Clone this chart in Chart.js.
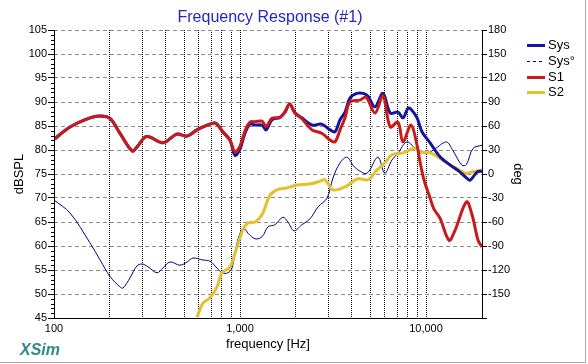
<!DOCTYPE html>
<html>
<head>
<meta charset="utf-8">
<script src="https://cdn.jsdelivr.net/npm/chart.js@4.4.0/dist/chart.umd.min.js"></script>
<style>
  html, body { margin: 0; padding: 0; background: #fff; }
  #wrap { position: relative; width: 588px; height: 364px; }
</style>
</head>
<body>
<div id="wrap"><canvas id="myChart" width="588" height="364"></canvas></div>
<script>
// S1 (woofer) SPL, dB
const s1Freq = [100, 122, 156, 177, 200, 226, 263, 279, 315, 385, 458, 519, 587, 632, 717, 752, 808, 883, 940,
    1000, 1064, 1132, 1205, 1313, 1380, 1486, 1640, 1745, 1850, 1977, 2150, 2435, 2750, 3050, 3240, 3450, 3670,
    3900, 4420, 4760, 5320, 5870, 6420, 7070, 7520, 8300, 8950, 9290, 9750, 10520, 11000, 11890, 13300, 14300,
    16500, 17680, 19050, 20000];
const s1Spl = [82.2, 84.8, 86.7, 87.1, 86.6, 83.5, 79.8, 80.6, 82.8, 81.5, 83.3, 82.9, 84.2, 84.8, 85.6, 85.4, 83.8, 82.1, 79.6,
    80.8, 84.0, 85.8, 85.9, 86.0, 84.9, 86.6, 86.8, 87.9, 89.6, 87.7, 86.5, 84.2, 83.5, 82.1, 81.7, 84.2, 86.7,
    90.0, 90.4, 91.0, 87.7, 91.3, 84.8, 85.8, 81.7, 85.2, 81.0, 77.5, 73.8, 70.0, 67.8, 65.8, 61.2, 63.2,
    69.2, 66.5, 61.2, 59.8];

// Sys SPL, dB
const sysFreq = [100, 122, 156, 177, 200, 226, 263, 279, 315, 385, 458, 519, 587, 632, 717, 752, 808, 883, 940,
    1000, 1064, 1132, 1205, 1313, 1380, 1486, 1640, 1745, 1850, 1977, 2150, 2435, 2750, 3050, 3240, 3450, 3670,
    3900, 4250, 4600, 4880, 5320, 5870, 6420, 7070, 7520, 8000, 8300, 8950, 9510, 10520, 11890, 13450, 15240,
    16500, 17250, 18800, 20000];
const sysSpl = [82.2, 84.8, 86.7, 87.1, 86.6, 83.5, 79.8, 80.6, 82.8, 81.5, 83.3, 82.9, 84.2, 84.8, 85.6, 85.4, 83.8, 82.0, 78.9,
    80.2, 83.5, 85.4, 85.2, 85.2, 84.2, 86.3, 86.8, 87.9, 89.6, 87.7, 86.7, 85.2, 85.4, 84.2, 83.8, 86.3, 87.9,
    90.8, 91.8, 91.8, 91.2, 89.0, 91.8, 87.7, 87.9, 86.7, 88.7, 88.5, 86.7, 83.8, 81.5, 78.6, 76.9, 75.4,
    74.2, 73.7, 75.4, 75.6];

// Sys phase, degrees (right axis)
const phaseFreq = [100, 122, 156, 177, 200, 226, 235, 256, 279, 297, 320, 358, 385, 420, 476, 519, 559, 632, 690, 752,
    800, 861, 906, 964, 1025, 1064, 1104, 1205, 1313, 1415, 1540, 1700, 1810, 1950, 2150, 2380, 2630, 2940, 3160,
    3450, 3760, 4050, 4310, 4820, 5510, 6000, 6560, 7070, 7900, 8950, 10120, 11400, 12900, 13900, 15600, 16500,
    17900, 20000];
const phaseDeg = [-32.5, -48.8, -86, -107.5, -128, -141, -142.5, -130, -115, -112.5, -116, -123.5, -117.5, -110, -114, -110, -105, -107.5, -109, -117.5,
    -123.5, -123.5, -117.5, -86, -69, -69, -74, -81, -78.5, -66, -63.5, -54, -60, -71, -63.5, -56, -41, -30, -5,
    14, 21, 11, 5, 1, 21, 1, 17.5, 26, 40, 30, 26, 33, 40, 30, 11, 12,
    32, 36];

// S2 (tweeter) SPL, dB
const s2Freq = [587, 632, 690, 752, 800, 883, 940, 1039, 1104, 1205, 1313, 1450, 1580, 1780, 2025, 2380, 2690, 2860,
    3160, 3670, 4310, 4880, 5440, 6000, 6560, 7520, 8730, 9290, 10520, 11640, 12900, 14600, 16200, 17680, 19500, 20000];
const s2Spl = [45.2, 48.1, 49.2, 51.5, 54.4, 55.6, 58.5, 63.5, 64.8, 65.0, 66.5, 70.6, 71.7, 72.1, 72.7, 72.9, 73.5, 73.8,
    71.7, 72.3, 74.0, 73.8, 75.8, 77.3, 79.0, 79.4, 80.4, 79.6, 79.4, 78.5, 77.3, 76.2, 75.2, 75.4, 75.8, 75.8];

const freqTicks = [100, 200, 300, 400, 500, 600, 700, 800, 900, 1000, 2000, 3000, 4000, 5000, 6000, 7000, 8000, 9000,
    10000, 20000];
const freqLabels = { 100: '100', 1000: '1,000', 10000: '10,000' };
const splTicks = [45, 50, 55, 60, 65, 70, 75, 80, 85, 90, 95, 100, 105];
const degTicks = [-180, -150, -120, -90, -60, -30, 0, 30, 60, 90, 120, 150, 180];

const legendItems = [
    { text: 'Sys', color: '#1414a0', width: 3, dash: [] },
    { text: 'Sys\u00b0', color: '#000080', width: 1, dash: [3, 3] },
    { text: 'S1', color: '#c81a1a', width: 3, dash: [] },
    { text: 'S2', color: '#e6c02c', width: 3, dash: [] }
];

function toPoints(xs, ys) {
    return xs.map((f, i) => ({ x: f, y: ys[i] }));
}

const extras = {
    id: 'extras',
    afterDraw(chart) {
        const { ctx, chartArea: a, scales: { y } } = chart;
        ctx.save();

        // axis lines
        ctx.strokeStyle = '#000';
        ctx.lineWidth = 1;
        ctx.setLineDash([]);
        ctx.beginPath();
        ctx.moveTo(a.left + 0.5, a.top);
        ctx.lineTo(a.left + 0.5, a.bottom + 0.5);
        ctx.lineTo(a.right + 0.5, a.bottom + 0.5);
        ctx.lineTo(a.right + 0.5, a.top);
        ctx.stroke();

        // minor ticks on the dB axis
        ctx.beginPath();
        for (let v = 46; v < 105; v++) {
            if (v % 5 === 0) continue;
            const py = Math.round(y.getPixelForValue(v)) + 0.5;
            ctx.moveTo(a.left - 3, py);
            ctx.lineTo(a.left, py);
        }
        ctx.stroke();

        // title
        ctx.fillStyle = '#2424c0';
        ctx.font = '16px Arial, "Liberation Sans", sans-serif';
        ctx.textAlign = 'center';
        ctx.textBaseline = 'alphabetic';
        ctx.fillText('Frequency Response (#1)', (a.left + a.right) / 2 + 2, 22);

        // legend
        ctx.font = '13px Arial, "Liberation Sans", sans-serif';
        ctx.textAlign = 'left';
        ctx.textBaseline = 'middle';
        legendItems.forEach((it, i) => {
            const ly = Math.round(45 + i * 15.8) + 0.5;
            ctx.strokeStyle = it.color;
            ctx.lineWidth = it.width;
            ctx.setLineDash(it.dash);
            ctx.beginPath();
            ctx.moveTo(527, ly);
            ctx.lineTo(545, ly);
            ctx.stroke();
            ctx.fillStyle = '#000';
            ctx.fillText(it.text, 548, ly);
        });
        ctx.setLineDash([]);

        // XSim mark
        ctx.fillStyle = '#2f8a8a';
        ctx.font = 'italic bold 16px Arial, "Liberation Sans", sans-serif';
        ctx.textBaseline = 'alphabetic';
        ctx.fillText('XSim', 20, 355);

        // window frame
        ctx.strokeStyle = '#a8a8a8';
        ctx.lineWidth = 1;
        ctx.beginPath();
        ctx.moveTo(0, 362.5);
        ctx.lineTo(585.5, 362.5);
        ctx.lineTo(585.5, 0);
        ctx.stroke();

        ctx.restore();
    }
};

Chart.defaults.font.family = 'Arial, "Liberation Sans", sans-serif';
Chart.defaults.color = '#000';

const ctx = document.getElementById('myChart').getContext('2d');

const myChart = new Chart(ctx, {
    type: 'line',
    data: {
        datasets: [{
            label: 'S1',
            data: toPoints(s1Freq, s1Spl),
            borderColor: '#c81a1a',
            borderWidth: 3,
            yAxisID: 'y',
            order: 0
        }, {
            label: 'Sys',
            data: toPoints(sysFreq, sysSpl),
            borderColor: '#1414a0',
            borderWidth: 3,
            yAxisID: 'y',
            order: 1
        }, {
            label: 'S2',
            data: toPoints(s2Freq, s2Spl),
            borderColor: '#e6c02c',
            borderWidth: 3,
            yAxisID: 'y',
            order: 2
        }, {
            label: 'Sys\u00b0',
            data: toPoints(phaseFreq, phaseDeg),
            borderColor: '#000080',
            borderWidth: 1,
            yAxisID: 'y2',
            order: 3
        }]
    },
    options: {
        responsive: false,
        animation: false,
        layout: { padding: { top: 30, left: 0, right: 0, bottom: 0 } },
        elements: {
            point: { radius: 0, hoverRadius: 0 },
            line: { tension: 0.35, fill: false }
        },
        plugins: {
            legend: { display: false },
            tooltip: { enabled: false },
            title: { display: false }
        },
        scales: {
            x: {
                type: 'logarithmic',
                min: 100,
                max: 20000,
                afterBuildTicks: s => { s.ticks = freqTicks.map(v => ({ value: v })); },
                afterFit: s => { s.height = 46; },
                grid: { color: '#000', drawTicks: false },
                border: { display: false, dash: [1, 1] },
                ticks: {
                    autoSkip: false,
                    maxRotation: 0,
                    padding: 4,
                    font: { size: 11 },
                    callback: v => freqLabels[v] || ''
                },
                title: {
                    display: true,
                    text: 'frequency [Hz]',
                    font: { size: 13 },
                    padding: { top: 0, bottom: 12 }
                }
            },
            y: {
                position: 'left',
                min: 45,
                max: 105,
                afterBuildTicks: s => { s.ticks = splTicks.map(v => ({ value: v })); },
                afterFit: s => { s.width = 54; },
                grid: { color: '#8a8a8a', tickLength: 6, tickColor: '#000' },
                border: { display: false, dash: [4, 3] },
                ticks: { padding: 1, font: { size: 11 } },
                title: {
                    display: true,
                    text: 'dBSPL',
                    font: { size: 13 },
                    padding: { top: 12, bottom: 0 }
                }
            },
            y2: {
                position: 'right',
                min: -180,
                max: 180,
                afterBuildTicks: s => { s.ticks = degTicks.map(v => ({ value: v })); },
                afterFit: s => { s.width = 106; },
                grid: { drawOnChartArea: false, tickLength: 5, tickColor: '#000' },
                border: { display: false },
                ticks: {
                    padding: 1,
                    font: { size: 11 },
                    callback: v => (v === -180 ? '' : String(v))
                },
                title: {
                    display: true,
                    text: 'deg',
                    font: { size: 13 },
                    padding: { top: 63, bottom: 0 }
                }
            }
        }
    },
    plugins: [extras]
});
</script>
</body>
</html>
